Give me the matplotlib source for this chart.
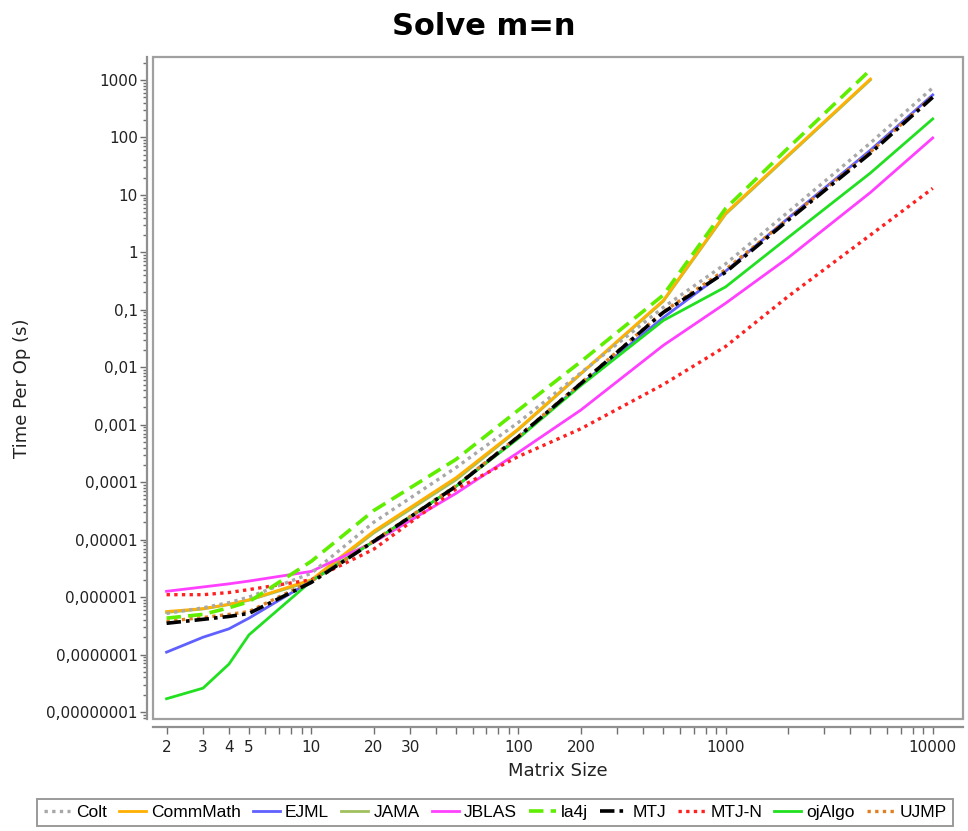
import numpy as np
import matplotlib
matplotlib.use("Agg")
import matplotlib.pyplot as plt
from matplotlib.patches import Rectangle
from matplotlib.ticker import FixedLocator, FuncFormatter, LogLocator, NullFormatter

plt.rcParams['font.family'] = ['DejaVu Sans']

# matrix sizes of the benchmark
sizes = [2, 3, 4, 5, 10, 20, 50, 100, 200, 500, 1000, 2000, 5000, 10000]

# time per op (s) for each library
colt = [5.2e-7, 6.5e-7, 8.0e-7, 1.0e-6, 2.6e-6, 2.0e-5, 1.8e-4, 1.1e-3, 8.0e-3, 0.11, 0.63, 5.0, 80, 730]
commmath = [5.6e-7, 6.3e-7, 7.5e-7, 9.0e-7, 2.0e-6, 1.4e-5, 1.2e-4, 8.5e-4, 7.8e-3, 0.145, 4.8, 49, 1040]
ejml = [1.1e-7, 2.0e-7, 2.8e-7, 4.3e-7, 1.9e-6, 9.3e-6, 8.5e-5, 6.0e-4, 5.0e-3, 0.073, 0.47, 3.9, 60, 550]
jama = [5.4e-7, 6.2e-7, 7.4e-7, 8.8e-7, 1.9e-6, 1.3e-5, 1.1e-4, 8.2e-4, 7.6e-3, 0.14, 4.6, 47, 1000]
jblas = [1.26e-6, 1.5e-6, 1.7e-6, 1.9e-6, 2.8e-6, 9.0e-6, 6.4e-5, 3.3e-4, 1.8e-3, 0.024, 0.13, 0.8, 11, 98]
la4j = [4.3e-7, 5.0e-7, 6.5e-7, 8.3e-7, 4.2e-6, 3.2e-5, 2.5e-4, 1.8e-3, 1.25e-2, 0.18, 5.8, 65, 1500]
mtj = [3.5e-7, 4.1e-7, 4.6e-7, 5.2e-7, 1.8e-6, 9.3e-6, 8.5e-5, 6.2e-4, 5.2e-3, 0.09, 0.45, 3.6, 53, 500]
mtjn = [1.1e-6, 1.1e-6, 1.2e-6, 1.35e-6, 2.0e-6, 6.8e-6, 7.6e-5, 2.8e-4, 8.5e-4, 5.0e-3, 0.023, 0.17, 2.0, 13]
ojalgo = [1.7e-8, 2.6e-8, 6.8e-8, 2.2e-7, 1.9e-6, 9.3e-6, 8.5e-5, 5.8e-4, 4.8e-3, 0.065, 0.25, 1.8, 24, 210]
ujmp = [3.8e-7, 4.4e-7, 5.0e-7, 5.6e-7, 1.9e-6, 9.5e-6, 8.7e-5, 6.3e-4, 5.3e-3, 0.092, 0.5, 3.8, 56, 520]

names = ["Colt", "CommMath", "EJML", "JAMA", "JBLAS", "la4j", "MTJ", "MTJ-N", "ojAlgo", "UJMP"]
series = [colt, commmath, ejml, jama, jblas, la4j, mtj, mtjn, ojalgo, ujmp]
colors = ["#a8a8a8", "#ffb000", "#6060ff", "#a0c060", "#ff40ff",
          "#60ee00", "#000000", "#ff2020", "#20e020", "#e08020"]
styles = [(0, (1, 1.3)), "-", "-", "-", "-",
          (0, (4, 2)), (0, (4, 1.4, 1, 1.4)), (0, (1, 1.3)), "-", (0, (1, 1.3))]
widths = [2.4, 2.0, 2.0, 2.0, 2.0, 2.6, 2.6, 2.4, 2.0, 2.4]
# JAMA sits underneath CommMath
zorders = [2.5, 2.2, 2.3, 2.1, 2.4, 2.9, 2.7, 2.6, 2.45, 2.65]

fig = plt.figure(figsize=(9.68, 8.31), dpi=100)
ax = fig.add_axes([153 / 968, 1 - 719 / 831, (963 - 153) / 968, (719 - 57) / 831])

for name, vals, c, ls, lw, z in zip(names, series, colors, styles, widths, zorders):
    ax.plot(sizes[:len(vals)], vals, color=c, linestyle=ls, linewidth=lw, label=name, zorder=z)

ax.set_xscale("log")
ax.set_yscale("log")
ax.set_xlim(1.72, 14000)
ax.set_ylim(7.55e-9, 2510)

# plot frame drawn separately, axis lines pushed outwards
ax.add_patch(Rectangle((0, 0), 1, 1, transform=ax.transAxes, fill=False,
                       edgecolor="#a0a0a0", linewidth=1.6, clip_on=False, zorder=5))
for s in ["top", "right"]:
    ax.spines[s].set_visible(False)
ax.spines["left"].set_position(("outward", 4))
ax.spines["bottom"].set_position(("outward", 6))
for s in ["left", "bottom"]:
    ax.spines[s].set_color("#909090")
    ax.spines[s].set_linewidth(1.6)


def comma_fmt(v, pos):
    if v >= 1:
        return "%d" % round(v)
    d = int(round(-np.log10(v)))
    return ("%.*f" % (d, v)).replace(".", ",")


ax.yaxis.set_major_locator(LogLocator(base=10, numticks=20))
ax.yaxis.set_major_formatter(FuncFormatter(comma_fmt))
ax.yaxis.set_minor_locator(LogLocator(base=10, subs=np.arange(2, 10), numticks=20))
ax.yaxis.set_minor_formatter(NullFormatter())

xmajor = [2, 3, 4, 5, 10, 20, 30, 100, 200, 1000, 10000]
xminor = [6, 7, 8, 9, 40, 50, 60, 70, 80, 90, 300, 400, 500, 600, 700, 800, 900,
          2000, 3000, 4000, 5000, 6000, 7000, 8000, 9000]
ax.xaxis.set_major_locator(FixedLocator(xmajor))
ax.xaxis.set_major_formatter(FuncFormatter(lambda v, p: "%d" % v))
ax.xaxis.set_minor_locator(FixedLocator(xminor))
ax.xaxis.set_minor_formatter(NullFormatter())

ax.tick_params(axis="both", which="both", color="#707070", width=1.0, labelcolor="#222222")
ax.tick_params(axis="y", which="major", length=5, labelsize=11, pad=2)
ax.tick_params(axis="y", which="minor", length=3)
ax.tick_params(axis="x", which="both", length=5, labelsize=11, pad=4)

ax.set_xlabel("Matrix Size", fontsize=13, labelpad=5, color="#222222")
ax.set_ylabel("Time Per Op (s)", fontsize=13, color="#222222")
ax.yaxis.set_label_coords((31 - 153) / 810, 0.5)
fig.suptitle("Solve m=n", fontsize=22, fontweight="bold", y=0.985)

leg = fig.legend(loc="lower center", bbox_to_anchor=(495 / 968, 5 / 831), ncol=10,
                 prop={"family": "Liberation Sans", "size": 12.5},
                 handlelength=1.55, handletextpad=0.3, columnspacing=0.7,
                 borderaxespad=0, borderpad=0.35, fancybox=False,
                 frameon=True, edgecolor="#808080")
leg.get_frame().set_linewidth(1.4)

fig.savefig("out.png", dpi=100)
